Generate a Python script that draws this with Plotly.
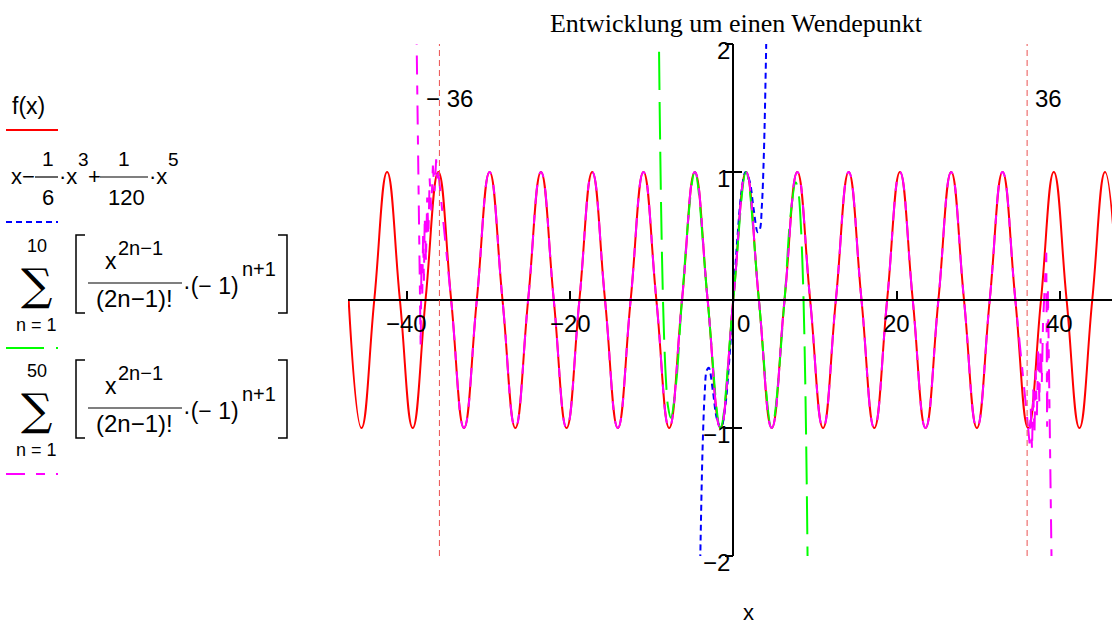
import plotly.graph_objects as go

# f(x) = sin(x), read at its zeros and extremes
sine_x = [-47.12, -45.55, -43.98, -42.41, -40.84, -39.27, -37.70, -36.13, -34.56, -32.99,
          -31.42, -29.85, -28.27, -26.70, -25.13, -23.56, -21.99, -20.42, -18.85, -17.28,
          -15.71, -14.14, -12.57, -11.00, -9.42, -7.85, -6.28, -4.71, -3.14, -1.57,
          0.0, 1.57, 3.14, 4.71, 6.28, 7.85, 9.42, 11.00, 12.57, 14.14,
          15.71, 17.28, 18.85, 20.42, 21.99, 23.56, 25.13, 26.70, 28.27, 29.85,
          31.42, 32.99, 34.56, 36.13, 37.70, 39.27, 40.84, 42.41, 43.98, 45.55, 47.12]
sine_y = [0, -1, 0, 1, 0, -1, 0, 1, 0, -1, 0, 1, 0, -1, 0, 1, 0, -1, 0, 1,
          0, -1, 0, 1, 0, -1, 0, 1, 0, -1, 0, 1, 0, -1, 0, 1, 0, -1, 0, 1,
          0, -1, 0, 1, 0, -1, 0, 1, 0, -1, 0, 1, 0, -1, 0, 1, 0, -1, 0, 1, 0]

# x - x^3/6 + x^5/120
poly5_x = [-4.1, -4.0, -3.75, -3.5, -3.25, -3.0, -2.5, -2.0, -1.5, -1.0, -0.5, 0.0,
           0.5, 1.0, 1.5, 2.0, 2.5, 3.0, 3.25, 3.5, 3.75, 4.0, 4.1]
poly5_y = [-2.27, -1.87, -1.14, -0.73, -0.55, -0.53, -0.71, -0.93, -1.0, -0.84, -0.48, 0.0,
           0.48, 0.84, 1.0, 0.93, 0.71, 0.53, 0.55, 0.73, 1.14, 1.87, 2.27]

# 10 terms: ends where it leaves the sine
sum10_left_x = [-9.15, -9.0, -8.75, -8.5, -8.25, -8.0, -7.65, -7.0]
sum10_left_y = [2.33, 1.43, 0.40, -0.24, -0.62, -0.83, -0.92, -0.65]
sum10_right_x = [7.0, 7.65, 8.0, 8.25, 8.5, 8.75, 9.0, 9.15]
sum10_right_y = [0.65, 0.92, 0.83, 0.62, 0.24, -0.40, -1.43, -2.33]

# 50 terms: rounding noise near +-38
sum50_left_x = [-38.85, -38.3, -38.2, -38.1, -38.0, -37.9, -37.8, -37.65, -37.5, -37.35,
                -37.2, -37.0, -36.8, -36.6, -36.4, -36.25, -36.13]
sum50_left_y = [2.3, -0.37, 0.3, 0.05, 0.5, 0.15, 0.65, 0.3, 0.8, 0.5,
                0.95, 0.7, 1.05, 0.85, 1.1, 0.95, 1.0]
sum50_right_x = [36.13, 36.3, 36.45, 36.6, 36.75, 36.9, 37.05, 37.2, 37.35, 37.5,
                 37.65, 37.8, 37.95, 38.35, 38.45, 38.55, 39.05]
sum50_right_y = [-1.0, -1.12, -0.85, -1.17, -0.7, -1.05, -0.55, -0.9, -0.4, -0.8,
                 -0.3, -0.65, -0.18, 0.37, -0.99, 0.08, -2.3]

markers = [-36, 36]
marker_labels = ['\u2212 36', '36']
x_ticks = [-40, -20, 20, 40]
x_label_vals = [-40, -20, 0, 20, 40]
x_label_text = ['\u221240', '\u221220', '0', '20', '40']
y_ticks = [-2, -1, 1, 2]
y_label_text = ['\u22122', '\u22121', '1', '2']

x_range = [-47.2, 46.4]
y_range = [-2, 2]

SANS = 'Liberation Sans, Arial, sans-serif'
SERIF = 'Liberation Serif, Times New Roman, serif'
L, T, W, H = 348, 44, 764, 512

def px(x):
    return (x - L) / W

def py(y):
    return (T + H - y) / H

fig = go.Figure()

fig.add_trace(go.Scatter(x=sine_x, y=sine_y, mode='lines',
                         line=dict(color='#ff0000', width=2, shape='spline', smoothing=1.3)))
fig.add_trace(go.Scatter(x=poly5_x, y=poly5_y, mode='lines',
                         line=dict(color='#0000ff', width=2, dash='6px,4px', shape='spline')))
i0, i1 = sine_x.index(-6.28), sine_x.index(6.28) + 1
fig.add_trace(go.Scatter(x=sum10_left_x + sine_x[i0:i1] + sum10_right_x,
                         y=sum10_left_y + sine_y[i0:i1] + sum10_right_y, mode='lines',
                         line=dict(color='#00ff00', width=2, dash='38px,12px', shape='spline')))
m_dash = '19px,11px,9px,11px'
j0, j1 = sine_x.index(-36.13), sine_x.index(36.13) + 1
fig.add_trace(go.Scatter(x=sum50_left_x, y=sum50_left_y, mode='lines',
                         line=dict(color='#ff00ff', width=2, dash=m_dash)))
fig.add_trace(go.Scatter(x=sine_x[j0:j1], y=sine_y[j0:j1], mode='lines',
                         line=dict(color='#ff00ff', width=2, dash=m_dash, shape='spline', smoothing=1.3)))
fig.add_trace(go.Scatter(x=sum50_right_x, y=sum50_right_y, mode='lines',
                         line=dict(color='#ff00ff', width=2, dash=m_dash)))
# helper trace so the second y axis (right-hand tick halves) is drawn
fig.add_trace(go.Scatter(x=[0], y=[0], yaxis='y2', mode='markers',
                         marker=dict(opacity=0), hoverinfo='skip'))

# markers at +-36
for m, lab in zip(markers, marker_labels):
    fig.add_shape(type='line', xref='x', yref='paper', x0=m, x1=m, y0=0, y1=1,
                  line=dict(color='rgb(235,80,80)', width=1, dash='6px,4px'))
    fig.add_annotation(x=m, y=py(98), xref='x', yref='paper', text=lab, showarrow=False,
                       xanchor='left', yanchor='middle', xshift=-15 if m < 0 else 6,
                       font=dict(family=SANS, size=24, color='black'))

# tick labels
for v, s in zip(x_label_vals, x_label_text):
    fig.add_annotation(x=v, y=0, xref='x', yref='y', text=s, showarrow=False,
                       xanchor='left' if v == 0 else 'center', xshift=2 if v == 0 else 0,
                       yanchor='top', yshift=-8, font=dict(family=SANS, size=24, color='black'))
for v, s in zip(y_ticks, y_label_text):
    fig.add_annotation(x=0, y=v, xref='x', yref='y', text=s, showarrow=False,
                       xanchor='right', xshift=-1, yanchor='middle', yshift=-6,
                       font=dict(family=SANS, size=24, color='black'))

# legend drawn by hand, Mathcad style
def put(s, x, y, size=22, anchor='left', family=SANS, yanchor='middle'):
    fig.add_annotation(text=s, x=px(x), y=py(y), xref='paper', yref='paper',
                       xanchor=anchor, yanchor=yanchor, showarrow=False,
                       font=dict(family=family, size=size, color='black'))

def seg(x0, y0, x1, y1, color='black', width=1.2, dash='solid'):
    fig.add_shape(type='line', xref='paper', yref='paper', x0=px(x0), y0=py(y0),
                  x1=px(x1), y1=py(y1), line=dict(color=color, width=width, dash=dash))

def bracket(xa, xb, y0, y1):
    fig.add_shape(type='path', xref='paper', yref='paper',
                  path=f'M {px(xb)},{py(y0)} L {px(xa)},{py(y0)} L {px(xa)},{py(y1)} L {px(xb)},{py(y1)}',
                  line=dict(color='black', width=1.5))

put('f(x)', 10, 106, 23)
seg(6, 130, 58, 130, '#ff0000', 2)

put('x\u2212', 9, 176, 22)
seg(35, 177, 58, 177)
put('1', 48, 158, 21, 'center')
put('6', 48, 197, 22, 'center')
put('\u00b7x', 57, 176, 22)
put('3', 76, 159, 19)
put('+', 86, 176, 22)
seg(100, 177, 148, 177)
put('1', 124, 158, 21, 'center')
put('120', 126, 197, 22, 'center')
put('\u00b7x', 147, 176, 22)
put('5', 166, 159, 19)
seg(6, 222, 58, 222, '#0000ff', 2, '6px,4px')

def sum_block(top, dy):
    put(top, 37, 246 + dy, 18, 'center')
    put('\u2211', 36, 284 + dy, 44, 'center', 'DejaVu Serif')
    put('n = 1', 36, 325 + dy, 18, 'center')
    bracket(76, 85, 235 + dy, 313 + dy)
    bracket(287, 278, 235 + dy, 313 + dy)
    put('x', 111, 261 + dy, 23, 'center')
    put('2n\u22121', 116, 248 + dy, 20)
    seg(88, 283 + dy, 182, 283 + dy)
    put('(2n\u22121)!', 134, 298 + dy, 24, 'center')
    put('\u00b7(\u2212 1)', 181, 286 + dy, 23)
    put('n+1', 240, 269 + dy, 20)

sum_block('10', 0)
seg(6, 348, 58, 348, '#00ff00', 2, '38px,12px')
sum_block('50', 125)
seg(6, 474, 58, 474, '#ff00ff', 2, m_dash)

put('x', 748, 627, 22, 'center', yanchor='bottom')

x_pos = (0 - x_range[0]) / (x_range[1] - x_range[0])
y_pos = (0 - y_range[0]) / (y_range[1] - y_range[0])

fig.update_layout(
    template='none', width=1112, height=628, showlegend=False,
    margin=dict(l=L, r=0, t=T, b=628 - T - H),
    paper_bgcolor='white', plot_bgcolor='white',
    font=dict(family=SANS, size=20, color='black'),
    title=dict(text='Entwicklung um einen Wendepunkt', xref='container', x=736 / 1112,
               xanchor='center', yref='container', y=1 - 23 / 628, yanchor='middle',
               font=dict(family=SERIF, size=26, color='black')),
    xaxis=dict(range=x_range, anchor='free', position=y_pos, showline=True, linecolor='black',
               linewidth=1.5, ticks='inside', ticklen=8, tickwidth=1.5, tickcolor='black',
               tickvals=x_ticks, showticklabels=False, showgrid=False, zeroline=False,
               automargin=False),
    yaxis=dict(range=y_range, anchor='free', position=x_pos, showline=True, linecolor='black',
               linewidth=1.5, ticks='outside', ticklen=8, tickwidth=1.5, tickcolor='black',
               tickvals=y_ticks, showticklabels=False, showgrid=False, zeroline=False,
               automargin=False),
    yaxis2=dict(range=y_range, overlaying='y', anchor='free', position=x_pos, showline=False,
                ticks='inside', ticklen=8, tickwidth=1.5, tickcolor='black',
                tickvals=y_ticks, showticklabels=False, showgrid=False, zeroline=False,
                automargin=False),
)

# the page has a default 8px body margin; drop it so the figure fills the window
fig.write_html('out.html', config={'displayModeBar': False},
               post_script="document.body.style.margin='0px';")
